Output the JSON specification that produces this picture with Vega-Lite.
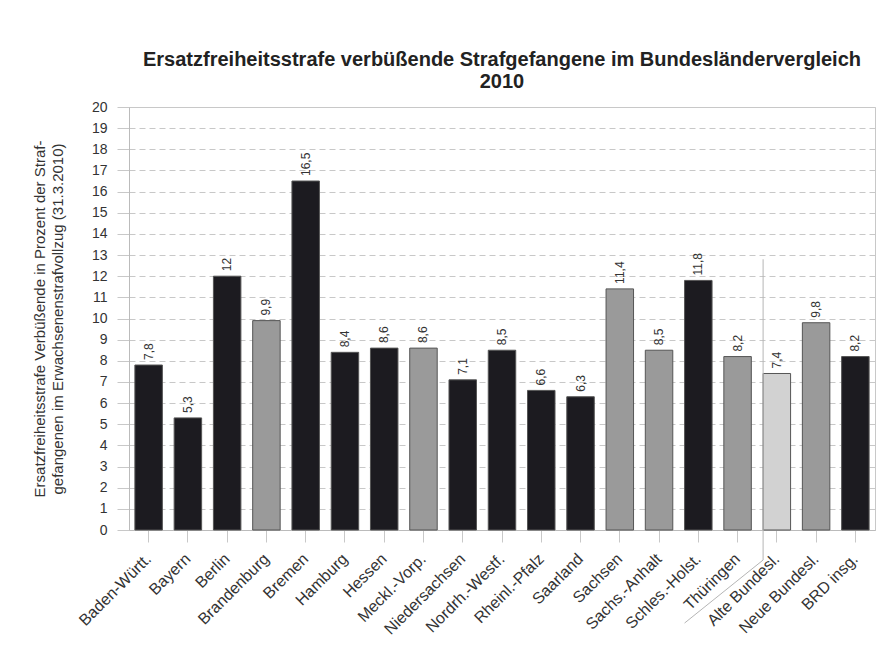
{
  "$schema": "https://vega.github.io/schema/vega-lite/v6.json",
  "autosize": "none",
  "width": 746,
  "height": 423,
  "padding": {"left": 129, "top": 107, "right": 19, "bottom": 120},
  "background": "white",
  "config": {
    "font": "Liberation Sans",
    "view": {"stroke": "#c8c8c8", "strokeWidth": 1}
  },
  "title": {
    "text": ["Ersatzfreiheitsstrafe verbüßende Strafgefangene im Bundesländervergleich", "2010"],
    "fontSize": 20,
    "fontWeight": "bold",
    "color": "#222222",
    "anchor": "middle",
    "offset": 8,
    "lineHeight": 22
  },
  "datasets": {
    "laender": [
      {"land": "Baden-Württ.", "wert": 7.8, "label": "7,8", "gruppe": "West"},
      {"land": "Bayern", "wert": 5.3, "label": "5,3", "gruppe": "West"},
      {"land": "Berlin", "wert": 12, "label": "12", "gruppe": "West"},
      {"land": "Brandenburg", "wert": 9.9, "label": "9,9", "gruppe": "Ost"},
      {"land": "Bremen", "wert": 16.5, "label": "16,5", "gruppe": "West"},
      {"land": "Hamburg", "wert": 8.4, "label": "8,4", "gruppe": "West"},
      {"land": "Hessen", "wert": 8.6, "label": "8,6", "gruppe": "West"},
      {"land": "Meckl.-Vorp.", "wert": 8.6, "label": "8,6", "gruppe": "Ost"},
      {"land": "Niedersachsen", "wert": 7.1, "label": "7,1", "gruppe": "West"},
      {"land": "Nordrh.-Westf.", "wert": 8.5, "label": "8,5", "gruppe": "West"},
      {"land": "Rheinl.-Pfalz", "wert": 6.6, "label": "6,6", "gruppe": "West"},
      {"land": "Saarland", "wert": 6.3, "label": "6,3", "gruppe": "West"},
      {"land": "Sachsen", "wert": 11.4, "label": "11,4", "gruppe": "Ost"},
      {"land": "Sachs.-Anhalt", "wert": 8.5, "label": "8,5", "gruppe": "Ost"},
      {"land": "Schles.-Holst.", "wert": 11.8, "label": "11,8", "gruppe": "West"},
      {"land": "Thüringen", "wert": 8.2, "label": "8,2", "gruppe": "Ost"},
      {"land": "Alte Bundesl.", "wert": 7.4, "label": "7,4", "gruppe": "Alt"},
      {"land": "Neue Bundesl.", "wert": 9.8, "label": "9,8", "gruppe": "Ost"},
      {"land": "BRD insg.", "wert": 8.2, "label": "8,2", "gruppe": "West"}
    ],
    "trenner": [
      {"land": "Alte Bundesl.", "wert": 12.8, "o": 1},
      {"land": "Alte Bundesl.", "wert": -1.42, "o": 2},
      {"land": "Schles.-Holst.", "wert": -4.4, "o": 3}
    ]
  },
  "encoding": {
    "x": {
      "field": "land",
      "type": "nominal",
      "scale": {
        "domain": ["Baden-Württ.", "Bayern", "Berlin", "Brandenburg", "Bremen", "Hamburg", "Hessen", "Meckl.-Vorp.", "Niedersachsen", "Nordrh.-Westf.", "Rheinl.-Pfalz", "Saarland", "Sachsen", "Sachs.-Anhalt", "Schles.-Holst.", "Thüringen", "Alte Bundesl.", "Neue Bundesl.", "BRD insg."],
        "paddingInner": 0.3,
        "paddingOuter": 0.15
      },
      "axis": {
        "title": null,
        "labelAngle": -45,
        "labelAlign": "right",
        "labelBaseline": "middle",
        "labelFontSize": 16,
        "labelColor": "#333333",
        "labelPadding": 14,
        "tickColor": "#c8c8c8",
        "tickSize": 12,
        "domainColor": "#bbbbbb",
        "grid": false
      }
    },
    "y": {
      "field": "wert",
      "type": "quantitative",
      "scale": {"domain": [0, 20], "nice": false},
      "axis": {
        "title": ["Ersatzfreiheitsstrafe Verbüßende in Prozent der Straf-", "gefangenen im Erwachsenenstrafvollzug (31.3.2010)"],
        "titleFontSize": 15,
        "titleFontWeight": "normal",
        "titleColor": "#333333",
        "titleLineHeight": 18,
        "titlePadding": 26,
        "values": [0, 1, 2, 3, 4, 5, 6, 7, 8, 9, 10, 11, 12, 13, 14, 15, 16, 17, 18, 19, 20],
        "labelFontSize": 14,
        "labelColor": "#333333",
        "labelPadding": 10,
        "tickColor": "#c8c8c8",
        "tickSize": 12,
        "domainColor": "#bbbbbb",
        "gridColor": "#c8c8c8",
        "gridDash": [6, 4]
      }
    }
  },
  "layer": [
    {
      "data": {"name": "laender"},
      "mark": {"type": "bar", "stroke": "#555555", "strokeWidth": 1},
      "encoding": {
        "color": {
          "field": "gruppe",
          "type": "nominal",
          "scale": {"domain": ["West", "Ost", "Alt"], "range": ["#1c1b20", "#9a9a9a", "#d2d2d2"]},
          "legend": null
        }
      }
    },
    {
      "data": {"name": "laender"},
      "mark": {"type": "text", "angle": -90, "align": "left", "baseline": "middle", "dx": 5, "fontSize": 12, "color": "#333333"},
      "encoding": {"text": {"field": "label"}}
    },
    {
      "data": {"name": "trenner"},
      "mark": {"type": "line", "color": "#b5b5b5", "strokeWidth": 1, "clip": false},
      "encoding": {
        "x": {"field": "land", "type": "nominal", "bandPosition": 0},
        "order": {"field": "o", "type": "quantitative"}
      }
    }
  ]
}
